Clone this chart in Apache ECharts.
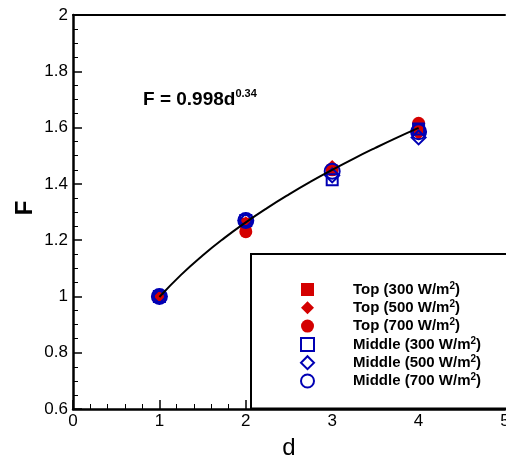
<!DOCTYPE html>
<html><head><meta charset="utf-8">
<script src="https://cdn.jsdelivr.net/npm/echarts@6/dist/echarts.min.js"></script>
<style>html,body{margin:0;padding:0;background:#fff}#c{width:506px;height:458px}</style>
</head><body><div id="c"></div>
<script>
const dValues = [1, 2, 3, 4];
const top300 = [1.0, 1.26, 1.45, 1.60];
const top500 = [1.0, 1.26, 1.46, 1.58];
const top700 = [1.0, 1.23, 1.45, 1.615];
const mid300 = [1.0, 1.27, 1.415, 1.595];
const mid500 = [1.0, 1.27, 1.43, 1.565];
const mid700 = [1.0, 1.27, 1.445, 1.585];
// fitted curve F = 0.998 d^0.34, sampled points
const fitD = [1, 1.25, 1.5, 1.75, 2, 2.25, 2.5, 2.75, 3, 3.25, 3.5, 3.75, 4];
const fitF = [0.998, 1.0766, 1.1455, 1.2072, 1.2633, 1.3149, 1.3628, 1.4077, 1.4498, 1.4899, 1.5279, 1.5643, 1.5989];
const seriesNames = ['Top (300 W/m2)', 'Top (500 W/m2)', 'Top (700 W/m2)', 'Middle (300 W/m2)', 'Middle (500 W/m2)', 'Middle (700 W/m2)'];
const xTicks = [0, 1, 2, 3, 4, 5];
const yTicks = [0.6, 0.8, 1, 1.2, 1.4, 1.6, 1.8, 2];

const RED = '#d40000', BLUE = '#0000b4';
const FONT = 'Liberation Sans, Arial, sans-serif';
const pairs = vals => dValues.map((d, i) => [d, vals[i]]);

function scatter(name, vals, symbol, size, filled) {
  const col = filled ? RED : BLUE;
  return {
    name, type: 'scatter', data: pairs(vals), symbol, symbolSize: size,
    itemStyle: filled ? { color: col, opacity: 1 } : { color: 'rgba(0,0,0,0)', borderColor: col, borderWidth: 2, opacity: 1 },
    emphasis: { disabled: true }
  };
}

const chart = echarts.init(document.getElementById('c'));
const axisCommon = {
  axisLine: { show: true, onZero: false, lineStyle: { color: '#000', width: 2.5 } },
  axisTick: { show: true, inside: true, length: 9, lineStyle: { color: '#000', width: 1.5 } },
  minorTick: { show: true, length: 5, lineStyle: { color: '#000', width: 1 } },
  splitLine: { show: false },
  axisLabel: { color: '#000', fontSize: 17, fontFamily: FONT }
};
chart.setOption({
  animation: false,
  grid: { left: 73, right: 1, top: 15, bottom: 49, outerBoundsMode: 'none', containLabel: false },
  xAxis: [
    Object.assign({}, axisCommon, {
      type: 'value', min: 0, max: 5, interval: 1,
      minorTick: Object.assign({}, axisCommon.minorTick, { splitNumber: 5 }),
      axisLabel: Object.assign({}, axisCommon.axisLabel, { margin: 4, showMaxLabel: true,
        formatter: v => xTicks.includes(v) ? String(v) : '' }),
      name: 'd', nameLocation: 'middle', nameGap: 27,
      nameTextStyle: { color: '#000', fontSize: 24, fontFamily: FONT }
    }),
    { type: 'value', position: 'top', min: 0, max: 5, axisLine: { show: true, lineStyle: { color: '#000', width: 2 } },
      axisTick: { show: false }, axisLabel: { show: false }, splitLine: { show: false } }
  ],
  yAxis: Object.assign({}, axisCommon, {
    type: 'value', min: 0.6, max: 2, interval: 0.2,
    minorTick: Object.assign({}, axisCommon.minorTick, { splitNumber: 4 }),
    axisLabel: Object.assign({}, axisCommon.axisLabel, { margin: 5,
      formatter: v => { const t = yTicks.find(y => Math.abs(y - v) < 1e-6); return t === undefined ? '' : String(t); } })
  }),
  legend: {
    orient: 'vertical', left: 251, top: 254,
    padding: [27, 60, 20, 49],
    borderColor: '#000', borderWidth: 2, backgroundColor: '#fff',
    itemWidth: 13, itemHeight: 13, itemGap: 2.3,
    selectedMode: false,
    data: seriesNames,
    formatter: n => n.replace('m2)', 'm{sup|2})').replace(/^(.*?)(\{sup)/, '{b|$1}$2').replace('})', '}{b|)}'),
    textStyle: {
      color: '#000', fontFamily: FONT, fontWeight: 'bold', fontSize: 15, padding: [0, 0, 0, 34],
      rich: {
        b: { fontSize: 15, fontWeight: 'bold', fontFamily: FONT, color: '#000' },
        sup: { fontSize: 10, fontWeight: 'bold', fontFamily: FONT, color: '#000', padding: [0, 0, 7, 0] }
      }
    }
  },
  graphic: [{
    type: 'text', left: 143, top: 88, z: 10,
    style: {
      text: '{m|F = 0.998d}{s|0.34}',
      rich: {
        m: { fontSize: 19, fontWeight: 'bold', fontFamily: FONT, fill: '#000' },
        s: { fontSize: 11, fontWeight: 'bold', fontFamily: FONT, fill: '#000', padding: [0, 0, 12, 0] }
      }
    }
  }, {
    type: 'text', x: 25, y: 208, rotation: Math.PI / 2, z: 10,
    style: { text: 'F', fontSize: 24, fontWeight: 'bold', fontFamily: FONT, fill: '#000',
      align: 'center', verticalAlign: 'middle' }
  }],
  series: [
    scatter(seriesNames[0], top300, 'rect', 11, true),
    scatter(seriesNames[1], top500, 'diamond', 14, true),
    scatter(seriesNames[2], top700, 'circle', 13, true),
    scatter(seriesNames[3], mid300, 'rect', 11, false),
    scatter(seriesNames[4], mid500, 'diamond', 14, false),
    scatter(seriesNames[5], mid700, 'circle', 15, false),
    { name: 'fit', type: 'line', data: fitD.map((d, i) => [d, fitF[i]]), smooth: true, symbol: 'none',
      lineStyle: { color: '#000', width: 2 }, z: 5, emphasis: { disabled: true } }
  ]
});
</script></body></html>
